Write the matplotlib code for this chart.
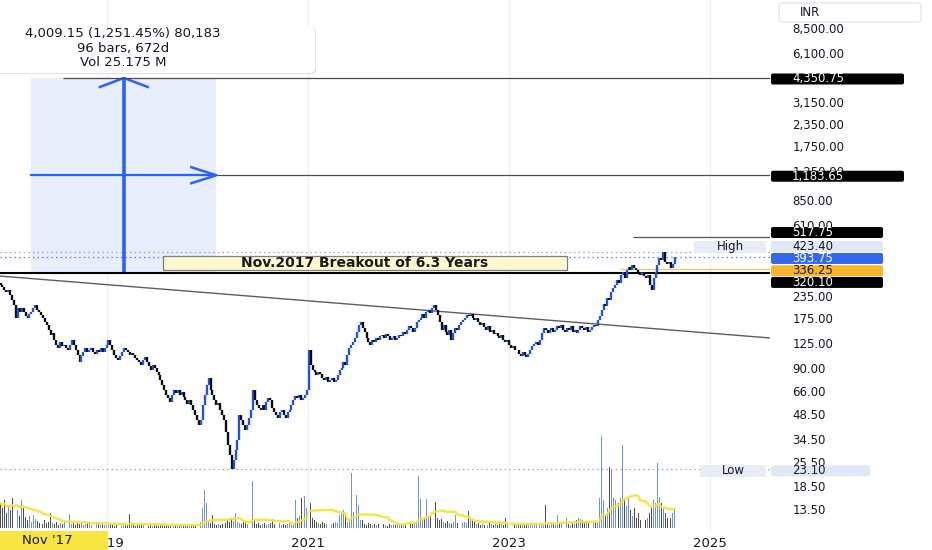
import numpy as np
import pandas as pd
import matplotlib
matplotlib.use("Agg")
import matplotlib.pyplot as plt
import matplotlib.dates as mdates
from matplotlib.patches import FancyBboxPatch
from matplotlib.transforms import IdentityTransform
from matplotlib.ticker import NullLocator

# ---------------- data ----------------
first_week = "2017-12-11"
prior_close = 280.0

# weekly closes (INR)
closes = [
    272, 265, 255, 248, 255, 238, 223, 208, 175, 200, 190, 200, 190,
    180, 175, 185, 190, 200, 208, 195, 190, 182, 175, 166, 160, 149,
    140, 143, 131, 122, 117, 127, 120, 122, 117, 114, 122, 131, 122,
    114, 107, 97, 105, 111, 117, 111, 114, 117, 111, 108, 114, 111,
    117, 111, 117, 122, 131, 122, 114, 107, 102.5, 100, 105, 111, 117,
    114, 111, 107, 110, 107, 102.5, 100, 97, 93, 100, 104, 97, 92,
    87, 93, 90, 85, 82, 76, 71, 67, 62.5, 60, 57, 62.5, 67,
    64, 67, 62.5, 65, 61, 58.4, 55.4, 58.4, 54.6, 51, 47.8, 44.7, 41.8,
    44.7, 54.6, 62.5, 71.4, 78.4, 66.8, 62.5, 58.4, 54.6, 56, 51, 47.8, 44.7,
    38, 32, 28, 23.10, 26.2, 29.9, 34.2, 47.8, 44.7, 41.8, 39.1, 41.8, 45.9,
    51, 66.8, 58.4, 54.6, 52.5, 51, 54.6, 51, 57, 60, 58.4, 52.5, 49.8,
    47.8, 45.9, 49.8, 51, 47.8, 45.9, 49.8, 51, 54.6, 58.4, 61.6, 60, 62.5,
    58.4, 60, 62.5, 66.8, 114, 93, 87, 85, 82, 85, 83, 78.4, 76.4,
    79.5, 74.3, 76.4, 78.4, 74.3, 76.4, 82, 87, 90, 97, 93, 107, 117,
    122, 127, 134, 145, 160, 166, 153, 145, 134, 127, 122, 131, 127,
    134, 131, 138, 140, 134, 141, 138, 131, 134, 138, 131, 134, 140,
    138, 145, 141, 149, 157, 153, 145, 153, 166, 170, 175, 185, 175,
    190, 195, 187, 200, 208, 195, 182, 166, 149, 160, 145, 140, 149,
    131, 143, 153, 149, 160, 166, 170, 175, 182, 180, 185, 175, 170,
    175, 166, 160, 163, 155, 149, 157, 145, 149, 141, 143, 138, 134,
    140, 131, 127, 131, 122, 117, 120, 114, 114, 108, 105, 111, 107,
    104, 108, 114, 120, 124, 127, 122, 131, 143, 153, 149, 143, 149,
    153, 145, 149, 157, 153, 160, 149, 145, 153, 149, 157, 145, 149,
    143, 149, 157, 153, 149, 155, 145, 149, 155, 160, 157, 170, 180,
    195, 211, 206, 229, 223, 248, 262, 272, 291, 280, 311, 324, 299,
    333, 347, 333, 356, 342, 333, 324, 311, 324, 307, 299, 311, 272,
    255, 299, 324, 356, 391, 381, 423.40, 371, 361, 371, 342, 361, 393.75,
]

# weekly volume (thousand shares)
volumes = [
    1250, 1000, 1400, 750, 1100, 900, 1500, 700, 1600, 900, 600, 1400, 1000,
    550, 400, 600, 300, 650, 450, 350, 250, 300, 200, 400, 250, 300,
    750, 250, 200, 300, 150, 250, 200, 300, 150, 250, 700, 200, 250,
    150, 300, 200, 250, 150, 200, 250, 300, 150, 200, 150, 250, 200,
    150, 200, 150, 250, 300, 200, 150, 100, 200, 150, 150, 100, 150,
    200, 150, 700, 200, 150, 100, 150, 200, 250, 150, 200, 150, 100,
    150, 100, 200, 150, 100, 150, 200, 100, 150, 100, 150, 200, 100,
    150, 100, 150, 200, 150, 100, 150, 100, 200, 150, 150, 250, 200,
    300, 1000, 1900, 1250, 400, 250, 650, 200, 150, 200, 150, 200, 300,
    250, 400, 300, 500, 350, 750, 300, 250, 200, 300, 250, 200, 250,
    300, 2350, 450, 200, 250, 150, 200, 250, 150, 200, 250, 450, 200,
    150, 200, 250, 150, 200, 150, 200, 250, 150, 200, 1400, 500, 600,
    1500, 700, 1600, 1000, 6400, 1250, 500, 400, 300, 250, 200, 300, 250,
    200, 300, 250, 200, 250, 300, 250, 650, 750, 900, 700, 300, 400,
    2750, 800, 1000, 1650, 1150, 400, 400, 200, 150, 250, 200, 150, 200,
    150, 200, 250, 150, 200, 150, 100, 200, 150, 200, 150, 250, 150,
    200, 150, 250, 1250, 550, 300, 200, 250, 300, 2600, 1450, 400, 500,
    1450, 550, 600, 3350, 750, 1300, 500, 400, 450, 300, 250, 350, 250,
    200, 300, 650, 250, 300, 200, 250, 300, 250, 850, 500, 400, 300,
    200, 250, 150, 200, 150, 200, 150, 250, 200, 150, 200, 150, 250,
    200, 150, 500, 200, 150, 200, 150, 250, 150, 200, 150, 200, 150,
    200, 150, 250, 150, 200, 150, 200, 150, 250, 200, 1150, 200, 150,
    250, 200, 150, 650, 200, 250, 150, 200, 500, 200, 150, 250, 200,
    400, 500, 450, 400, 300, 350, 250, 300, 400, 250, 350, 300, 1500,
    4600, 1400, 600, 1000, 3050, 2900, 1500, 1400, 750, 1250, 1500, 4150, 1400,
    1100, 1500, 900, 600, 1000, 500, 750, 400, 900, 600, 400, 500, 750,
    1000, 1400, 1250, 3250, 1550, 1250, 1000, 750, 500, 600, 500, 750, 1000,
]

breakout_level = 320.10
target_level = 4350.75
mid_level = 1183.65
ray_level = 517.75
ref_level = 336.25
range_start, range_end = "2018-04-02", "2020-02-03"
target_ray_start = "2018-07-26"
ray_start = "2024-03-26"
ref_start = "2024-02-08"
trend_a = ("2017-12-09", 307.0)
trend_b = ("2025-08-07", 134.0)

price_ticks = [8500, 6100, 3150, 2350, 1750, 1250, 850, 610,
               235, 175, 125, 90, 66, 48.5, 34.5, 25.5, 18.5, 13.5]
year_ticks = ["2019-01-01", "2021-01-01", "2023-01-01", "2025-01-01"]
year_labels = ["2019", "2021", "2023", "2025"]
x_range = ("2017-12-09", "2025-08-07")
price_range = (10.25, 12360)

measure_lines = ["4,009.15 (1,251.45%) 80,183", "96 bars, 672d", "Vol 25.175 M"]
note_text = "Nov.2017 Breakout of 6.3 Years"

# ---------------- styling ----------------
plt.rcParams["font.family"] = ["DejaVu Sans"]
W, H = 932, 550
BLUE = "#2453d6"
TV_BLUE = "#2962ff"
TXT = "#131722"
FS = 8.5

fig = plt.figure(figsize=(W / 100, H / 100), dpi=100, facecolor="white")
ax = fig.add_axes([0, 20 / H, 770 / W, 530 / H])
axv = fig.add_axes([0, 22 / H, 770 / W, 200 / H], sharex=ax)
ax.set_zorder(2)
axv.set_zorder(1)
ax.patch.set_visible(False)
axv.patch.set_visible(False)

dates = pd.date_range(first_week, periods=len(closes), freq="7D")
xs = mdates.date2num(dates)
c = np.array(closes, dtype=float)
o = np.concatenate([[prior_close], c[:-1]])
hi = np.maximum(o, c)
lo = np.minimum(o, c)
up = c >= o

d = lambda s: mdates.date2num(pd.Timestamp(s))

ax.set_yscale("log")
ax.set_xlim(d(x_range[0]), d(x_range[1]))
ax.set_ylim(*price_range)

# volume pane
vol = np.array(volumes, dtype=float)
axv.bar(xs, vol, width=3.2, color=np.where(up, "#5a84e6", "#3b3b3b"), linewidth=0, alpha=0.9)
ma = pd.Series(vol).rolling(20, min_periods=1).mean()
axv.plot(xs, ma, color="#f6e23a", lw=1.8, alpha=0.9, solid_capstyle="round")
axv.set_ylim(0, 10000)
axv.axis("off")

# grid
for t in year_ticks:
    ax.axvline(d(t), color="#eef0f5", lw=1, zorder=0)

# range measurement box and arrows
ax.fill_between([d(range_start), d(range_end)], breakout_level, target_level,
                color="#e9eefc", zorder=0.5, lw=0)
xmid = (d(range_start) + d(range_end)) / 2
ax.plot([xmid, xmid], [breakout_level, target_level], color=TV_BLUE, lw=2.6, zorder=3,
        solid_capstyle="butt")
ax.plot([d(range_start), d(range_end)], [mid_level, mid_level], color=TV_BLUE, lw=1.6, zorder=3)

inv = ax.transData.inverted()


def chevron(xd, yd, wings):
    tx, ty = ax.transData.transform((xd, yd))
    pts = [inv.transform((tx + wings[0][0], ty + wings[0][1])), (xd, yd),
           inv.transform((tx + wings[1][0], ty + wings[1][1]))]
    ax.plot([p[0] for p in pts], [p[1] for p in pts], color=TV_BLUE, lw=1.8, zorder=3,
            solid_joinstyle="miter")


chevron(xmid, target_level, [(-24, -9), (24, -9)])
chevron(d(range_end), mid_level, [(-25, 8), (-25, -8)])

xmax = d(x_range[1])
# horizontal levels
ax.axhline(breakout_level, color="black", lw=1.5, zorder=3)
ax.hlines(target_level, d(target_ray_start), xmax, color="#4a4a4a", lw=0.9, zorder=3)
ax.hlines(mid_level, d(range_end), xmax, color="#4a4a4a", lw=0.9, zorder=3)
ax.hlines(ray_level, d(ray_start), xmax, color="#555555", lw=0.9, zorder=3)
ax.hlines(ref_level, d(ref_start), xmax, color="#f5c062", lw=0.9, zorder=3)
ax.plot([d(trend_a[0]), d(trend_b[0])], [trend_a[1], trend_b[1]], color="#5d5d5d", lw=1.0, zorder=3)

high_val, low_val, last_val = max(hi), min(lo), closes[-1]
ax.axhline(high_val, color="#9aa3b5", lw=0.9, ls=(0, (1.2, 2.5)), zorder=2)
ax.axhline(last_val, color="#5b7fe8", lw=0.9, ls=(0, (1.2, 2.5)), zorder=2)
ax.axhline(low_val, color="#9aa3b5", lw=0.9, ls=(0, (1.2, 2.5)), zorder=2)

# price bars
ax.vlines(xs, lo, hi, colors=np.where(up, BLUE, "#0c0c0c"), lw=1.7, zorder=4)

# axes / ticks
for s in ax.spines.values():
    s.set_visible(False)
ax.yaxis.tick_right()
ax.set_yticks(price_ticks)
ax.set_yticklabels([f"{v:,.2f}" for v in price_ticks])
ax.yaxis.set_minor_locator(NullLocator())
ax.tick_params(axis="y", length=0, pad=16, labelsize=FS, labelcolor=TXT)
ax.set_xticks([d(t) for t in year_ticks])
ax.set_xticklabels(year_labels)
ax.tick_params(axis="x", length=0, pad=5, labelsize=9.5, labelcolor=TXT)

ID = IdentityTransform()


def ypix(v):
    return ax.transData.transform((xmax, v))[1]


def tag(text, value, offset, face, color, x0=771, x1=883):
    yc = ypix(value) + offset
    fig.add_artist(FancyBboxPatch((x0, yc - 5.5), x1 - x0, 11,
                                  boxstyle="round,pad=0,rounding_size=2",
                                  transform=ID, facecolor=face, edgecolor="none", zorder=5))
    fig.text(x0 + 21, yc, text, transform=ID, va="center", ha="left", fontsize=FS,
             color=color, zorder=6)


tag(f"{target_level:,.2f}", target_level, -1, "black", "white", x1=904)
tag(f"{mid_level:,.2f}", mid_level, -1, "black", "white", x1=904)
tag(f"{ray_level:,.2f}", ray_level, 4.5, "black", "white")
tag(f"{high_val:,.2f}", high_val, 5.5, "#e1e8f5", TXT)
tag(f"{last_val:,.2f}", last_val, -1, "#3567ee", "white")
tag(f"{ref_level:,.2f}", ref_level, -1.5, "#f5b62e", TXT)
tag(f"{breakout_level:,.2f}", breakout_level, -9.5, "black", "white")
tag(f"{low_val:,.2f}", low_val, -1.5, "#e1e8f5", TXT, x1=870)

# High / Low markers beside the scale
for label, val, off, x0 in [("High", high_val, 5.5, 694), ("Low", low_val, -1.5, 700)]:
    yc = ypix(val) + off
    fig.add_artist(FancyBboxPatch((x0, yc - 6), 766 - x0, 12, boxstyle="square,pad=0",
                                  transform=ID, facecolor="#e7edf8", edgecolor="none", zorder=5))
    fig.text((x0 + 766) / 2, yc, label, transform=ID, va="center", ha="center",
             fontsize=FS, color=TXT, zorder=6)

# breakout note
yb = ypix(breakout_level) + 10
fig.add_artist(FancyBboxPatch((163, yb - 7), 404, 14, boxstyle="square,pad=0", transform=ID,
                              facecolor="#fbf8cf", edgecolor="#7d7d7d", lw=0.9, zorder=5))
fig.text(365, yb, note_text, transform=ID, va="center", ha="center", fontsize=10,
         fontweight="bold", color="#1b1b1b", zorder=6)

# measurement info panel (its left part runs past the canvas edge)
fig.add_artist(FancyBboxPatch((-12, H - 74), 328, 47, boxstyle="round,pad=0,rounding_size=5",
                              transform=ID, facecolor="#dfe1e6", edgecolor="none", zorder=6))
fig.add_artist(FancyBboxPatch((-12, H - 73), 327, 46, boxstyle="round,pad=0,rounding_size=5",
                              transform=ID, facecolor="white", edgecolor="none", zorder=6))
for i, line in enumerate(measure_lines):
    fig.text(123, H - 34 - 14.5 * i, line, transform=ID, va="center", ha="center",
             fontsize=9.5, color=TXT, zorder=7)

# currency box
fig.add_artist(FancyBboxPatch((779, H - 22), 142, 19, boxstyle="round,pad=0,rounding_size=4",
                              transform=ID, facecolor="white", edgecolor="#e0e3eb", lw=0.9, zorder=5))
fig.text(800, H - 12.5, "INR", transform=ID, va="center", ha="left", fontsize=FS,
         color=TXT, zorder=6)

# highlighted date on the time scale
fig.add_artist(FancyBboxPatch((0, 0), 108, 19, boxstyle="square,pad=0", transform=ID,
                              facecolor="#f9e53f", edgecolor="none", zorder=5))
fig.text(47, 9.5, "Nov '17", transform=ID, va="center", ha="center", fontsize=9.5,
         color=TXT, zorder=6)

fig.savefig("out.png", dpi=100, facecolor="white")
